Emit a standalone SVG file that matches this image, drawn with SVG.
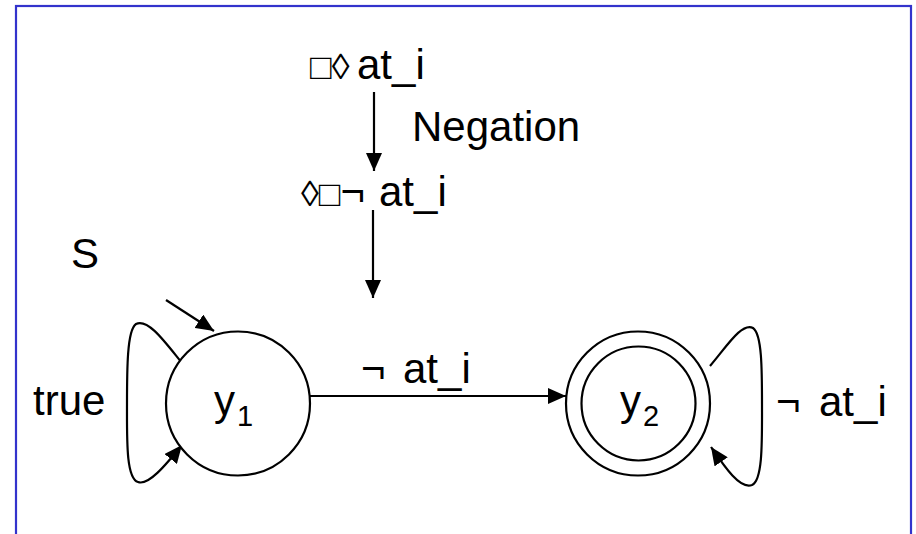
<svg xmlns="http://www.w3.org/2000/svg" width="916" height="534" viewBox="0 0 916 534">
<defs>
<marker id="ah" markerUnits="userSpaceOnUse" markerWidth="18" markerHeight="16" refX="18" refY="8" orient="auto">
<path d="M0,0 L18,8 L0,16 z" fill="#000"/>
</marker>
<style>
.t{font-family:"Liberation Sans",Arial,sans-serif;font-size:42px;fill:#000}
.s{font-family:"Liberation Sans",Arial,sans-serif;font-size:29px;fill:#000}
.sym{font-size:36px}
.n{fill:#fff;stroke:#000;stroke-width:2.2}
.e{fill:none;stroke:#000;stroke-width:2.2;marker-end:url(#ah)}
</style>
</defs>
<rect x="0" y="0" width="916" height="534" fill="#fff"/>
<rect x="16" y="6" width="895" height="540" fill="none" stroke="#3333cc" stroke-width="2.2"/>

<g id="connectors">
<line class="e" x1="374" y1="92" x2="374" y2="171"/>
<line class="e" x1="373" y1="210" x2="373" y2="298"/>
<line class="e" x1="166" y1="300" x2="214" y2="331"/>
<line class="e" x1="310" y1="396" x2="566" y2="396"/>
<path class="e" d="M182,363 C165,342 148,318 136,324 C127,330 127,370 127,404 C127,440 126,478 138,482 C148,486 165,466 182,445"/>
<path class="e" d="M710,366 C727,346 742,322 753,328 C762,334 762,370 762,404 C762,440 763,480 752,485 C740,490 724,466 711,447"/>
</g>

<g id="formula1"><text class="t" x="310" y="79"><tspan class="sym">□◊</tspan> <tspan x="357">at_i</tspan></text></g>
<g id="negation"><text class="t" x="412" y="141">Negation</text></g>
<g id="formula2"><text class="t" x="301" y="206"><tspan class="sym">◊□</tspan>¬ <tspan x="379">at_i</tspan></text></g>
<g id="start"><text class="t" x="71" y="268">S</text></g>
<g id="label-true"><text class="t" x="33" y="415">true</text></g>
<g id="label-edge"><text class="t" x="361" y="383">¬ <tspan x="403">at_i</tspan></text></g>
<g id="label-loop2"><text class="t" x="776" y="416">¬ <tspan x="819">at_i</tspan></text></g>

<g id="y1">
<circle class="n" cx="238" cy="403.5" r="72"/>
<text class="t" x="214" y="415">y</text><text class="s" x="237" y="426">1</text>
</g>
<g id="y2">
<circle class="n" cx="638" cy="403.5" r="72"/>
<circle class="n" cx="638.5" cy="403.5" r="57"/>
<text class="t" x="620" y="415">y</text><text class="s" x="643" y="426">2</text>
</g>
</svg>
